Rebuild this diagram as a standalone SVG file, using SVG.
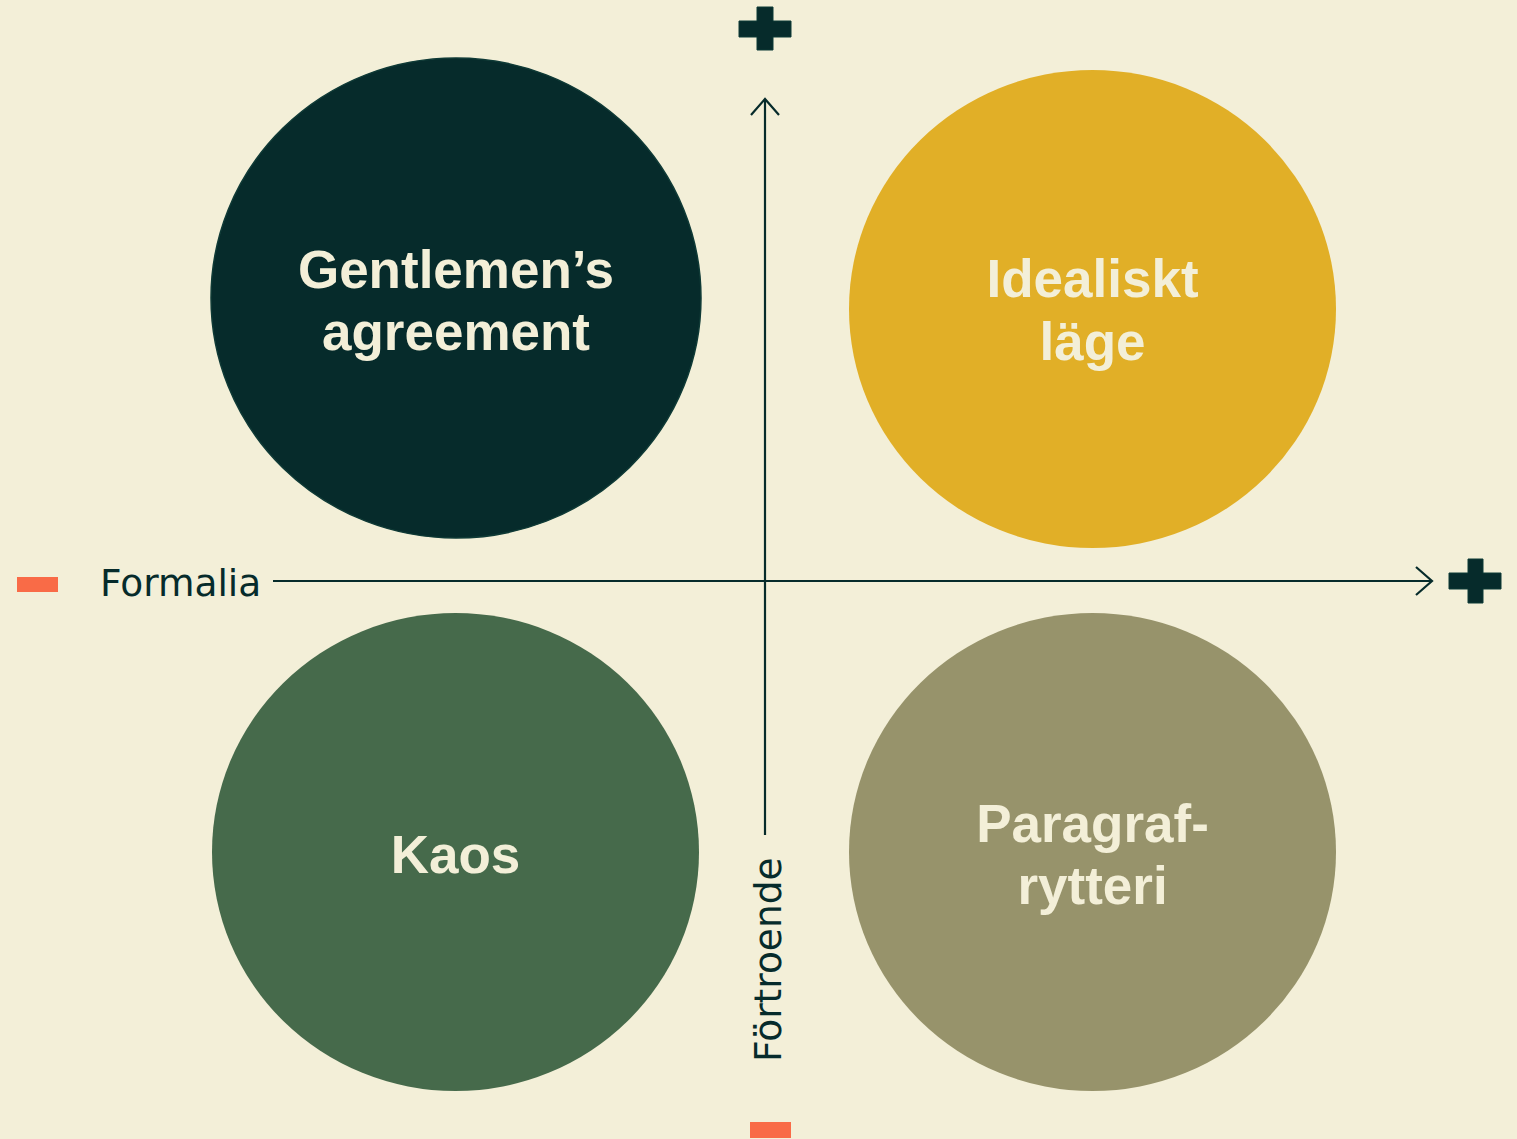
<svg xmlns="http://www.w3.org/2000/svg" width="1517" height="1139" viewBox="0 0 1517 1139">
<defs>
<style>
.bg{fill:#F3EFD8}
.axis{stroke:#062B2B;stroke-width:2.2;fill:none}
.plus{fill:#062B2B;stroke:#0d3a37;stroke-width:1}
.minus{fill:#F96B47}
.lbl{font-family:"DejaVu Sans",Verdana,sans-serif;font-size:37.5px;fill:#062B2B}
.ct{font-family:"Liberation Sans",Arial,sans-serif;font-weight:bold;font-size:53px;fill:#F3EFD8;text-anchor:middle}
</style>
</defs>
<rect class="bg" x="0" y="0" width="1517" height="1139"/>
<g id="connectors">
<path class="axis" d="M765 835 V99 M751 115 L765 99 L779 115"/>
<path class="axis" d="M273 581 H1432 M1416 567 L1432 581 L1416 595"/>
</g>
<g id="plus-top"><path class="plus" d="M757 7 H773 V21 H791 V37 H773 V50 H757 V37 H739 V21 H757 Z"/></g>
<g id="plus-right"><path class="plus" d="M1468 559 H1483 V573 H1501 V589 H1483 V603 H1468 V589 H1449 V573 H1468 Z"/></g>
<g id="minus-left"><rect class="minus" x="17" y="577" width="41" height="15"/></g>
<g id="minus-bottom"><rect class="minus" x="750" y="1122" width="41" height="16"/></g>
<g id="label-formalia"><text class="lbl" x="100" y="596">Formalia</text></g>
<g id="label-fortroende"><text class="lbl" transform="translate(781 1062) rotate(-90)">Förtroende</text></g>
<g id="node-gentlemen">
<ellipse cx="456" cy="298" rx="245" ry="240" fill="#062B2B" stroke="#0f3a36" stroke-width="1.5"/>
<text class="ct" x="456" y="288">Gentlemen’s</text>
<text class="ct" x="456" y="350">agreement</text>
</g>
<g id="node-idealiskt">
<ellipse cx="1092.5" cy="309" rx="243.5" ry="239" fill="#E1AF27"/>
<text class="ct" x="1092.5" y="297">Idealiskt</text>
<text class="ct" x="1092.5" y="360">läge</text>
</g>
<g id="node-kaos">
<ellipse cx="455.5" cy="852" rx="243.5" ry="239" fill="#466A4B"/>
<text class="ct" x="455.5" y="873">Kaos</text>
</g>
<g id="node-paragraf">
<ellipse cx="1092.5" cy="852" rx="243.5" ry="239" fill="#97936B"/>
<text class="ct" x="1092.5" y="842">Paragraf-</text>
<text class="ct" x="1092.5" y="904">rytteri</text>
</g>
</svg>
